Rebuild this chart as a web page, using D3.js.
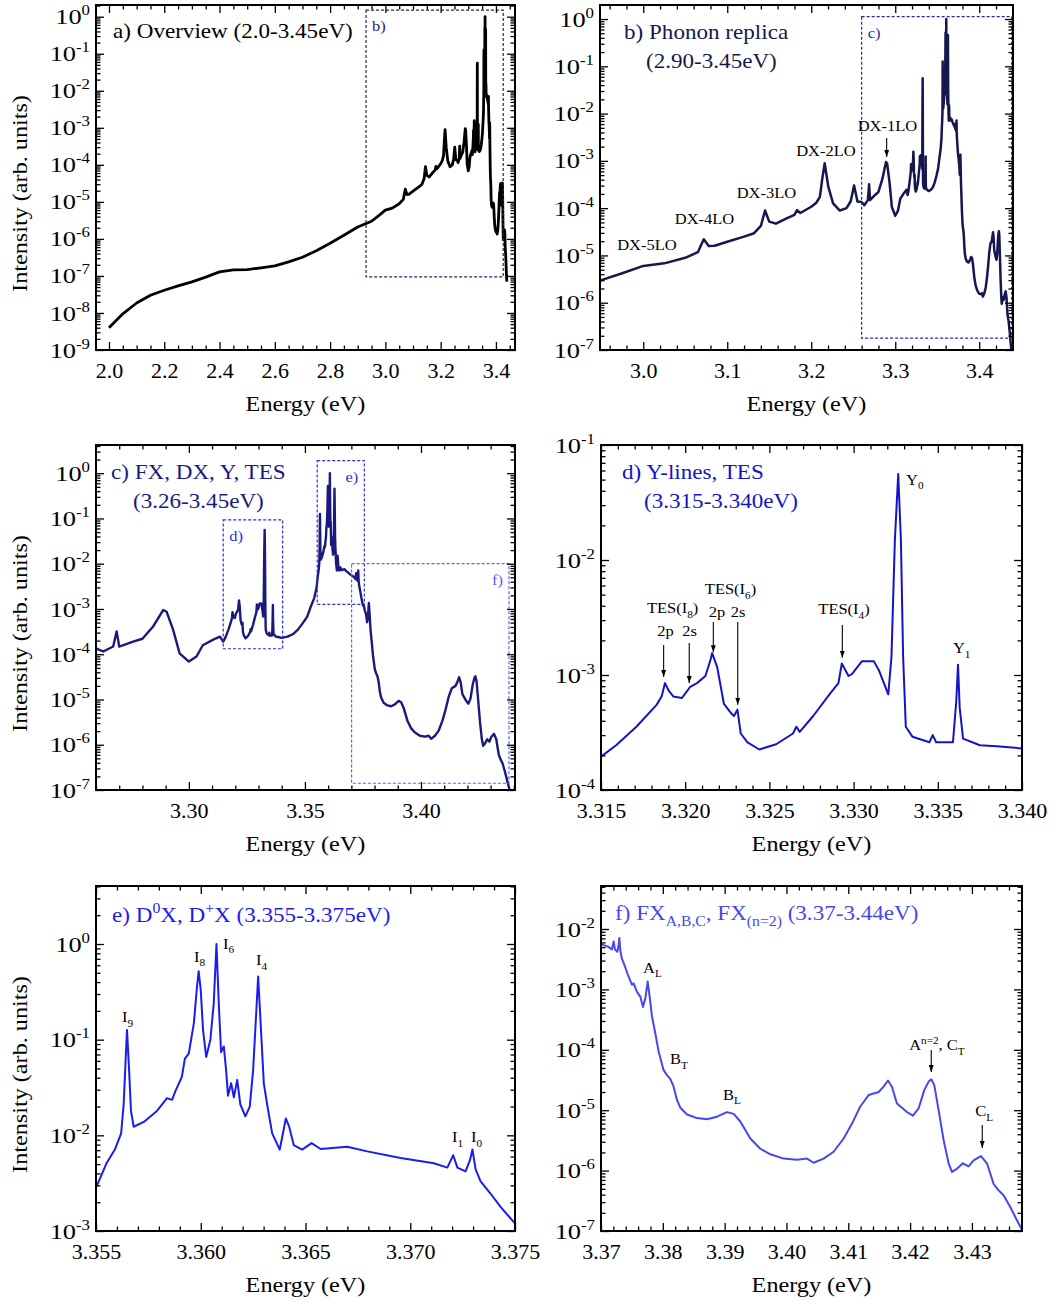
<!DOCTYPE html>
<html>
<head>
<meta charset="utf-8">
<script src="https://cdn.jsdelivr.net/npm/d3@7"></script>
<style>
  body { margin: 0; background: #fff; }
  svg text { font-family: "Liberation Serif", "Times New Roman", serif; }
</style>
</head>
<body>
<svg id="fig" width="1058" height="1304"></svg>
<script>
// PL spectrum, [energy (eV), intensity (arb. units)].
// Each range is taken from the panel that shows it in most detail.

// 2.00 - 2.95 eV (panel a)
var broadBand = [
  [2.00, 4.0e-9], [2.05, 9.5e-9], [2.10, 1.86e-8], [2.15, 3.0e-8], [2.20, 4.1e-8],
  [2.25, 5.4e-8], [2.30, 6.9e-8], [2.35, 9.3e-8], [2.40, 1.29e-7], [2.45, 1.45e-7],
  [2.50, 1.48e-7], [2.55, 1.66e-7], [2.60, 1.86e-7], [2.65, 2.4e-7], [2.70, 3.2e-7],
  [2.75, 4.8e-7], [2.80, 7.6e-7], [2.85, 1.26e-6], [2.90, 2.1e-6]
];

// 2.95 - 3.26 eV, LO phonon replicas (panel b)
var phononReplicas = [
  [2.950, 3.0e-6], [2.975, 4.2e-6], [3.000, 6.0e-6], [3.025, 6.8e-6], [3.050, 8.9e-6],
  [3.065, 1.17e-5], [3.072, 2.2e-5], [3.078, 1.58e-5], [3.085, 1.6e-5], [3.100, 1.95e-5],
  [3.120, 2.5e-5], [3.132, 2.95e-5], [3.140, 4.2e-5], [3.145, 8.9e-5], [3.150, 5.2e-5],
  [3.158, 4.7e-5], [3.170, 6.0e-5], [3.180, 7.2e-5], [3.183, 9.1e-5], [3.187, 7.9e-5],
  [3.200, 1.07e-4], [3.206, 1.3e-4], [3.2103, 1.74e-4], [3.213, 4.0e-4], [3.216, 8.9e-4],
  [3.2202, 2.9e-4], [3.226, 1.26e-4], [3.234, 8.9e-5], [3.242, 1.0e-4], [3.247, 1.4e-4],
  [3.251, 3.0e-4], [3.255, 1.38e-4], [3.2600, 1.35e-4]
];

// 3.26 - 3.315 eV (panel c)
var dxReplica = [
  [3.2631, 1.15e-4], [3.2674, 1.48e-4], [3.2689, 3.2e-4], [3.2700, 1.48e-4], [3.2760, 1.9e-4],
  [3.2800, 2.2e-4], [3.2846, 4.1e-4], [3.2890, 9.5e-4], [3.2904, 8.7e-4], [3.2932, 3.5e-4],
  [3.2960, 1.05e-4], [3.3000, 6.9e-5], [3.3033, 8.9e-5], [3.3060, 1.58e-4], [3.3105, 2.1e-4],
  [3.3134, 2.45e-4], [3.3148, 1.9e-4]
];

// 3.315 - 3.340 eV, Y lines and TES (panel d)
var yLines = [
  [3.3151, 2.0e-4], [3.3159, 2.45e-4], [3.3171, 3.55e-4], [3.3183, 5.5e-4], [3.3186, 6.5e-4],
  [3.3188, 8.5e-4], [3.3190, 7.4e-4], [3.3193, 6.5e-4], [3.3198, 6.3e-4], [3.3203, 7.9e-4],
  [3.3207, 8.5e-4], [3.3212, 9.8e-4], [3.3215, 1.35e-3], [3.3216, 1.55e-3], [3.3219, 1.17e-3],
  [3.3223, 5.6e-4], [3.3227, 4.7e-4], [3.3229, 4.4e-4], [3.3231, 5.0e-4], [3.3233, 3.1e-4],
  [3.3237, 2.6e-4], [3.3244, 2.25e-4], [3.3254, 2.5e-4], [3.3264, 3.1e-4], [3.3266, 3.55e-4],
  [3.3268, 3.2e-4], [3.3276, 4.4e-4], [3.3286, 6.9e-4], [3.3291, 8.5e-4], [3.3293, 1.26e-3],
  [3.3297, 9.8e-4], [3.3299, 1.02e-3], [3.3305, 1.32e-3], [3.3312, 1.32e-3], [3.3315, 1.1e-3],
  [3.3318, 8.5e-4], [3.33206, 6.8e-4], [3.33225, 1.45e-3], [3.33245, 1.48e-2], [3.33265, 5.6e-2],
  [3.33281, 1.48e-2], [3.33294, 1.45e-3], [3.3331, 3.55e-4], [3.3335, 2.9e-4], [3.3345, 2.6e-4],
  [3.3347, 3.0e-4], [3.3349, 2.6e-4], [3.3359, 2.6e-4], [3.3361, 6.0e-4], [3.3362, 1.23e-3],
  [3.3363, 5.2e-4], [3.3365, 2.8e-4], [3.3375, 2.45e-4], [3.3385, 2.4e-4], [3.3400, 2.3e-4]
];

// 3.340 - 3.375 eV, bound excitons I9 ... I0 (panels c and e)
var boundExcitons = [
  [3.3425, 2.45e-4], [3.3450, 2.8e-4], [3.3470, 3.5e-4], [3.3490, 4.8e-4], [3.3510, 6.8e-4],
  [3.3525, 1.12e-3], [3.3540, 1.74e-3], [3.35505, 3.0e-3], [3.3555, 5.1e-3], [3.3559, 7.1e-3],
  [3.3562, 1.05e-2], [3.35632, 2.1e-2], [3.35642, 6.6e-2], [3.35648, 0.126], [3.35658, 4.8e-2],
  [3.35667, 1.8e-2], [3.3568, 1.23e-2], [3.35728, 1.38e-2], [3.35791, 1.8e-2], [3.35839, 2.45e-2],
  [3.35863, 2.35e-2], [3.35879, 2.9e-2], [3.3591, 4.1e-2], [3.35924, 6.3e-2], [3.35943, 7.2e-2],
  [3.35967, 0.148], [3.35982, 0.355], [3.3599, 0.52], [3.3600, 0.33], [3.36011, 0.126],
  [3.36026, 6.6e-2], [3.36046, 0.10], [3.36062, 0.24], [3.36075, 1.0], [3.36086, 0.24],
  [3.36097, 7.4e-2], [3.3611, 8.5e-2], [3.36121, 4.8e-2], [3.3613, 2.6e-2], [3.36145, 3.5e-2],
  [3.36158, 2.5e-2], [3.36174, 3.8e-2], [3.36189, 2.1e-2], [3.36213, 1.58e-2], [3.36234, 2.0e-2],
  [3.3625, 4.8e-2], [3.36263, 0.162], [3.36274, 0.457], [3.36285, 0.162], [3.36301, 3.5e-2],
  [3.36317, 2.1e-2], [3.36341, 1.05e-2], [3.36377, 7.1e-3], [3.36396, 1.15e-2], [3.36406, 1.5e-2],
  [3.36422, 1.23e-2], [3.36444, 7.9e-3], [3.36484, 7.1e-3], [3.36529, 8.3e-3], [3.36572, 7.2e-3],
  [3.36699, 7.6e-3], [3.36795, 6.8e-3], [3.36954, 5.8e-3], [3.37113, 5.1e-3], [3.37177, 4.6e-3],
  [3.37205, 6.2e-3], [3.37225, 4.6e-3], [3.37264, 4.2e-3], [3.37285, 5.5e-3], [3.37297, 7.1e-3],
  [3.37312, 4.4e-3], [3.37336, 3.3e-3], [3.37384, 2.45e-3], [3.37432, 1.78e-3], [3.3750, 1.2e-3]
];

// 3.375 - 3.44 eV, free excitons (panel f)
var freeExcitons = [
  [3.37528, 1.26e-3], [3.37582, 9.1e-4], [3.37636, 7.6e-4], [3.37679, 5.1e-4], [3.37717, 7.1e-4],
  [3.37755, 1.35e-3], [3.37787, 7.6e-4], [3.37825, 3.55e-4], [3.37879, 1.86e-4], [3.37933, 9.3e-5],
  [3.38013, 4.6e-5], [3.38067, 3.8e-5], [3.38121, 3.3e-5], [3.38175, 2.45e-5], [3.38229, 1.48e-5],
  [3.38283, 1.1e-5], [3.38391, 8.5e-6], [3.38553, 7.4e-6], [3.38714, 7.1e-6], [3.38876, 7.8e-6],
  [3.39038, 9.3e-6], [3.39146, 8.7e-6], [3.39253, 6.5e-6], [3.39415, 3.4e-6], [3.39577, 2.3e-6],
  [3.39739, 1.86e-6], [3.39954, 1.58e-6], [3.40170, 1.51e-6], [3.40332, 1.58e-6], [3.4044, 1.35e-6],
  [3.40601, 1.58e-6], [3.40763, 2.05e-6], [3.40925, 3.4e-6], [3.4106, 6.0e-6], [3.41194, 1.15e-5],
  [3.41329, 1.78e-5], [3.41491, 2.0e-5], [3.41571, 2.45e-5], [3.41642, 3.1e-5], [3.41706, 2.45e-5],
  [3.41787, 1.29e-5], [3.41868, 1.1e-5], [3.41949, 9.3e-6], [3.42046, 8.1e-6], [3.42137, 1.07e-5],
  [3.42229, 2.15e-5], [3.42299, 2.95e-5], [3.42342, 3.25e-5], [3.42391, 2.6e-5], [3.42461, 1.0e-5],
  [3.42542, 3.2e-6], [3.42623, 1.32e-6], [3.42677, 9.5e-7], [3.42757, 1.07e-6], [3.42854, 1.32e-6],
  [3.42946, 1.17e-6], [3.43027, 1.48e-6], [3.43146, 1.74e-6], [3.43243, 1.32e-6], [3.43351, 6.0e-7],
  [3.43432, 4.7e-7], [3.43512, 3.9e-7], [3.4362, 2.5e-7], [3.43728, 1.51e-7], [3.43819, 1.0e-7],
  [3.4395, 7.0e-8]
];

var spectrum = broadBand.concat(phononReplicas, dxReplica, yLines, boundExcitons, freeExcitons);

// labels of the peaks, placed at [energy, intensity]
var notesB = [
  {at: [3.0044, 1.3e-5], anchor: "middle", segs: [["DX-5LO"]]},
  {at: [3.0729, 4.6e-5], anchor: "middle", segs: [["DX-4LO"]]},
  {at: [3.1467, 1.64e-4], anchor: "middle", segs: [["DX-3LO"]]},
  {at: [3.2175, 1.27e-3], anchor: "middle", segs: [["DX-2LO"]]},
  {at: [3.2907, 4.3e-3], anchor: "middle", segs: [["DX-1LO"]]}
];
var arrowsB = [[3.2898, 3.05e-3, 1.21e-3]];

var notesD = [
  {at: [3.31925, 3.46e-3], anchor: "middle", segs: [["TES(I"], ["8", "sub"], [")"]]},
  {at: [3.31883, 2.18e-3], anchor: "middle", segs: [["2p"]]},
  {at: [3.32026, 2.18e-3], anchor: "middle", segs: [["2s"]]},
  {at: [3.32269, 5.06e-3], anchor: "middle", segs: [["TES(I"], ["6", "sub"], [")"]]},
  {at: [3.32189, 3.19e-3], anchor: "middle", segs: [["2p"]]},
  {at: [3.32314, 3.19e-3], anchor: "middle", segs: [["2s"]]},
  {at: [3.32943, 3.39e-3], anchor: "middle", segs: [["TES(I"], ["4", "sub"], [")"]]},
  {at: [3.33311, 4.49e-2], anchor: "start", segs: [["Y"], ["0", "sub"]]},
  {at: [3.33590, 1.55e-3], anchor: "start", segs: [["Y"], ["1", "sub"]]}
];
var arrowsD = [
  [3.31872, 1.82e-3, 9.6e-4], [3.32024, 1.90e-3, 8.5e-4], [3.32167, 2.89e-3, 1.58e-3],
  [3.32312, 2.89e-3, 5.5e-4], [3.32933, 2.72e-3, 1.41e-3]
];

var notesE = [
  {at: [3.35624, 0.153], anchor: "start", segs: [["I"], ["9", "sub"]]},
  {at: [3.35968, 0.649], anchor: "start", segs: [["I"], ["8", "sub"]]},
  {at: [3.36106, 0.887], anchor: "start", segs: [["I"], ["6", "sub"]]},
  {at: [3.36264, 0.603], anchor: "start", segs: [["I"], ["4", "sub"]]},
  {at: [3.37199, 8.5e-3], anchor: "start", segs: [["I"], ["1", "sub"]]},
  {at: [3.37290, 8.5e-3], anchor: "start", segs: [["I"], ["0", "sub"]]}
];

var notesF = [
  {at: [3.3768, 1.87e-3], anchor: "start", segs: [["A"], ["L", "sub"]]},
  {at: [3.38117, 5.8e-5], anchor: "start", segs: [["B"], ["T", "sub"]]},
  {at: [3.38975, 1.48e-5], anchor: "start", segs: [["B"], ["L", "sub"]]},
  {at: [3.41985, 9.9e-5], anchor: "start", segs: [["A"], ["n=2", "sup"], [", C"], ["T", "sub"]]},
  {at: [3.43054, 7.9e-6], anchor: "start", segs: [["C"], ["L", "sub"]]}
];
var arrowsF = [[3.42342, 9.9e-5, 4.27e-5], [3.43167, 5.7e-6, 2.37e-6]];

// ---- layout of the six panels ----
var panels = [
  {id: "a", left: 96, top: 5, right: 515, bottom: 350,
   xDomain: [1.953, 3.469], yDomain: [1e-9, 2.07], xStep: 0.2, xMinor: 0.05, xDigits: 1,
   color: "#000000", lineWidth: 2.8, yTitle: true,
   title: [{dx: 17, dy: 33, segs: [["a) Overview (2.0-3.45eV)"]]}],
   boxes: [{x: [2.93, 3.4264], y: [9.4e-8, 1.5], color: "#24246e", label: "b)", side: "left"}],
   notes: [], arrows: []},
  {id: "b", left: 600, top: 5, right: 1013, bottom: 350,
   xDomain: [2.9485, 3.4402], yDomain: [1e-7, 1.98], xStep: 0.1, xMinor: 0.02, xDigits: 1,
   color: "#17174f", lineWidth: 2.5, yTitle: false,
   title: [{dx: 24, dy: 34, segs: [["b) Phonon replica"]]}, {dx: 46, dy: 63, segs: [["(2.90-3.45eV)"]]}],
   boxes: [{x: [3.26, 3.4386], y: [1.78e-7, 1.12], color: "#2828a8", label: "c)", side: "left"}],
   notes: notesB, arrows: arrowsB},
  {id: "c", left: 96, top: 445, right: 515, bottom: 790,
   xDomain: [3.26, 3.4405], yDomain: [1e-7, 4.2], xStep: 0.05, xMinor: 0.01, xDigits: 2,
   color: "#1a1a7e", lineWidth: 2.4, yTitle: true,
   title: [{dx: 15, dy: 34, segs: [["c) FX, DX, Y, TES"]]}, {dx: 37, dy: 63, segs: [["(3.26-3.45eV)"]]}],
   boxes: [
     {x: [3.3148, 3.3404], y: [1.32e-4, 9.3e-2], color: "#2b2be6", label: "d)", side: "left"},
     {x: [3.3553, 3.3756], y: [1.26e-3, 1.9], color: "#2b2be6", label: "e)", side: "right"},
     {x: [3.3701, 3.4379], y: [1.41e-7, 1.0e-2], color: "#5c5cff", label: "f)", side: "right"}
   ],
   notes: [], arrows: []},
  {id: "d", left: 601, top: 445, right: 1022, bottom: 790,
   xDomain: [3.315, 3.340], yDomain: [1e-4, 1e-1], xStep: 0.005, xMinor: 0.001, xDigits: 3,
   color: "#1414c4", lineWidth: 2.0, yTitle: false,
   title: [{dx: 21, dy: 34, segs: [["d) Y-lines, TES"]]}, {dx: 43, dy: 63, segs: [["(3.315-3.340eV)"]]}],
   boxes: [], notes: notesD, arrows: arrowsD},
  {id: "e", left: 96, top: 886, right: 515, bottom: 1231,
   xDomain: [3.355, 3.375], yDomain: [1e-3, 4.04], xStep: 0.005, xMinor: 0.001, xDigits: 3,
   color: "#1c1cee", lineWidth: 2.0, yTitle: true,
   title: [{dx: 16, dy: 36, segs: [["e) D"], ["0", "sup"], ["X, D"], ["+", "sup"], ["X (3.355-3.375eV)"]]}],
   boxes: [], notes: notesE, arrows: []},
  {id: "f", left: 601, top: 886, right: 1022, bottom: 1231,
   xDomain: [3.37, 3.4381], yDomain: [1e-7, 5.15e-2], xStep: 0.01, xMinor: 0.002, xDigits: 2,
   color: "#4747ee", lineWidth: 2.0, yTitle: false,
   title: [{dx: 14, dy: 34, segs: [["f) FX"], ["A,B,C", "sub"], [", FX"], ["(n=2)", "sub"], [" (3.37-3.44eV)"]]}],
   boxes: [], notes: notesF, arrows: arrowsF}
];

var SERIF = '"Liberation Serif","Times New Roman",serif';
var SX = 1.1, SX_Y = 1.2;   // the original lettering is a little wide

var svg = d3.select("#fig");
var defs = svg.append("defs");
defs.append("marker")
    .attr("id", "arrow")
    .attr("viewBox", "0 0 10 10")
    .attr("refX", 10).attr("refY", 5)
    .attr("markerWidth", 7).attr("markerHeight", 7)
    .attr("markerUnits", "userSpaceOnUse")
    .attr("orient", "auto")
    .append("path").attr("d", "M0,1.5 L10,5 L0,8.5 z").attr("fill", "#000");

// text with sub- and superscripts
function richText(t, segs, size){
    let shift = 0;
    segs.forEach(function(s){
        let want = s[1] == "sub" ? 0.3 * size : s[1] == "sup" ? -0.42 * size : 0;
        t.append("tspan")
            .attr("dy", want - shift)
            .attr("font-size", s[1] ? 0.68 * size : size)
            .text(s[0]);
        shift = want;
    });
}
function addText(parent, px, py, segs, size, color, anchor){
    let t = parent.append("text")
        .attr("transform", "translate(" + px + "," + py + ") scale(" + SX + ",1)")
        .attr("font-size", size)
        .attr("fill", color)
        .attr("text-anchor", anchor || "start");
    richText(t, segs, size);
    return t;
}
function linTicks(dom, step){
    let i0 = Math.ceil(dom[0] / step - 1e-6), i1 = Math.floor(dom[1] / step + 1e-6);
    return d3.range(i0, i1 + 1).map(i => +(i * step).toFixed(6));
}
function logTicks(dom){
    let lo = Math.floor(Math.log10(dom[0])), hi = Math.ceil(Math.log10(dom[1]));
    let major = [], minor = [];
    for (let k = lo; k <= hi; k++){
        for (let m = 1; m <= 9; m++){
            let v = m * Math.pow(10, k);
            if (v < dom[0] * 0.999 || v > dom[1] * 1.001) continue;
            (m == 1 ? major : minor).push(v);
        }
    }
    return {major: major, minor: minor};
}
function styleAxis(sel, size){
    sel.select(".domain").remove();
    sel.attr("font-family", SERIF).attr("font-size", size || 10);
    sel.selectAll(".tick line").attr("stroke-width", 1.3);
}

panels.forEach(function(p){
    let g = svg.append("g").attr("class", "panel-" + p.id);
    let x = d3.scaleLinear().domain(p.xDomain).range([p.left, p.right]);
    let y = d3.scaleLog().domain(p.yDomain).range([p.bottom, p.top]);

    //曲线，裁剪到坐标框内
    defs.append("clipPath").attr("id", "clip-" + p.id)
        .append("rect")
        .attr("x", p.left).attr("y", p.top)
        .attr("width", p.right - p.left).attr("height", p.bottom - p.top);
    let pts = spectrum.filter(function(d, i){
        let prev = spectrum[i - 1], next = spectrum[i + 1];
        return (d[0] >= p.xDomain[0] || (next && next[0] >= p.xDomain[0])) &&
               (d[0] <= p.xDomain[1] || (prev && prev[0] <= p.xDomain[1]));
    });
    let line = d3.line().x(d => x(d[0])).y(d => y(d[1]));
    g.append("path")
        .datum(pts)
        .attr("clip-path", "url(#clip-" + p.id + ")")
        .attr("fill", "none")
        .attr("stroke", p.color)
        .attr("stroke-width", p.lineWidth)
        .attr("stroke-linejoin", "round")
        .attr("d", line);

    //虚线框
    p.boxes.forEach(function(b){
        g.append("rect")
            .attr("x", x(b.x[0])).attr("y", y(b.y[1]))
            .attr("width", x(b.x[1]) - x(b.x[0]))
            .attr("height", y(b.y[0]) - y(b.y[1]))
            .attr("fill", "none")
            .attr("stroke", b.color)
            .attr("stroke-width", 1.2)
            .attr("stroke-dasharray", "3,2");
        let lx = b.side == "left" ? x(b.x[0]) + 6 : x(b.x[1]) - 6;
        addText(g, lx, y(b.y[1]) + 21, [[b.label]], 15, b.color, b.side == "left" ? "start" : "end");
    });

    //坐标轴：刻度朝内，四边都有
    let xt = linTicks(p.xDomain, p.xStep);
    let xm = linTicks(p.xDomain, p.xMinor).filter(v => !xt.some(t => Math.abs(t - v) < 1e-9));
    let yt = logTicks(p.yDomain);
    let fmt = d3.format("." + p.xDigits + "f");

    g.append("g").attr("transform", "translate(0," + p.bottom + ")")
        .call(d3.axisBottom(x).tickValues(xt).tickSizeInner(-8).tickSizeOuter(0).tickPadding(14).tickFormat(fmt))
        .call(styleAxis, 20)
        .selectAll(".tick text").attr("transform", "scale(" + SX + ",1)");
    g.append("g").attr("transform", "translate(0," + p.bottom + ")")
        .call(d3.axisBottom(x).tickValues(xm).tickSizeInner(-4.5).tickSizeOuter(0).tickFormat(""))
        .call(styleAxis);
    g.append("g").attr("transform", "translate(0," + p.top + ")")
        .call(d3.axisTop(x).tickValues(xt).tickSizeInner(-8).tickSizeOuter(0).tickFormat(""))
        .call(styleAxis);
    g.append("g").attr("transform", "translate(0," + p.top + ")")
        .call(d3.axisTop(x).tickValues(xm).tickSizeInner(-4.5).tickSizeOuter(0).tickFormat(""))
        .call(styleAxis);

    g.append("g").attr("transform", "translate(" + p.left + ",0)")
        .call(d3.axisLeft(y).tickValues(yt.major).tickSizeInner(-8).tickSizeOuter(0).tickPadding(5).tickFormat(""))
        .call(styleAxis, 22)
        .selectAll(".tick text").each(function(v){
            let t = d3.select(this).attr("transform", "scale(" + SX_Y + ",1)");
            t.append("tspan").text("10");
            t.append("tspan").attr("dy", -9).attr("font-size", 14).text(Math.round(Math.log10(v)));
        });
    g.append("g").attr("transform", "translate(" + p.left + ",0)")
        .call(d3.axisLeft(y).tickValues(yt.minor).tickSizeInner(-4.5).tickSizeOuter(0).tickFormat(""))
        .call(styleAxis);
    g.append("g").attr("transform", "translate(" + p.right + ",0)")
        .call(d3.axisRight(y).tickValues(yt.major).tickSizeInner(-8).tickSizeOuter(0).tickFormat(""))
        .call(styleAxis);
    g.append("g").attr("transform", "translate(" + p.right + ",0)")
        .call(d3.axisRight(y).tickValues(yt.minor).tickSizeInner(-4.5).tickSizeOuter(0).tickFormat(""))
        .call(styleAxis);

    g.append("rect")
        .attr("x", p.left).attr("y", p.top)
        .attr("width", p.right - p.left).attr("height", p.bottom - p.top)
        .attr("fill", "none").attr("stroke", "#000").attr("stroke-width", 2);

    //轴标题
    addText(g, (p.left + p.right) / 2, p.bottom + 61, [["Energy (eV)"]], 22, "#000", "middle");
    if (p.yTitle){
        g.append("text")
            .attr("transform", "translate(27," + ((p.top + p.bottom) / 2 + 16) + ") rotate(-90) scale(" + SX + ",1)")
            .attr("font-size", 22)
            .attr("text-anchor", "middle")
            .text("Intensity (arb. units)");
    }

    //面板标题
    p.title.forEach(function(t){
        addText(g, p.left + t.dx, p.top + t.dy, t.segs, 21, p.color, "start");
    });

    //峰的标注与箭头
    p.notes.forEach(function(n){
        addText(g, x(n.at[0]), y(n.at[1]), n.segs, 15, "#000", n.anchor);
    });
    p.arrows.forEach(function(a){
        g.append("line")
            .attr("x1", x(a[0])).attr("x2", x(a[0]))
            .attr("y1", y(a[1])).attr("y2", y(a[2]))
            .attr("stroke", "#000").attr("stroke-width", 1.1)
            .attr("marker-end", "url(#arrow)");
    });
});
</script>
</body>
</html>
